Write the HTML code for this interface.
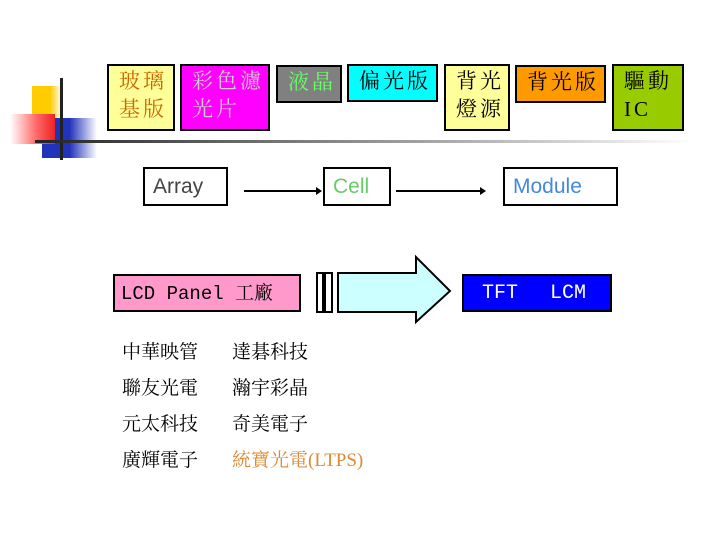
<!DOCTYPE html>
<html><head><meta charset="utf-8"><style>
body{margin:0;width:720px;height:540px;background:#fff;position:relative;overflow:hidden;font-family:"Liberation Serif","Noto Serif CJK SC","Noto Sans CJK TC",serif}
.b{position:absolute;box-sizing:border-box;border:2px solid #000;font-size:21px;line-height:28px;padding:1px 0 0 10px;letter-spacing:3px}
.a{position:absolute;height:2px;background:#000}
.t{position:absolute;font-size:19px;letter-spacing:0px;line-height:20px}
.s{font-family:"Liberation Sans",sans-serif;font-size:21px;letter-spacing:0;padding:4px 0 0 8px}
</style></head><body>
<div style="position:absolute;left:32px;top:86px;width:30px;height:32px;background:linear-gradient(90deg,#ffcc00,#ffcc00 60%,#fff)"></div>
<div style="position:absolute;left:42px;top:118px;width:55px;height:40px;background:linear-gradient(90deg,#2233bb,#2233bb 50%,#fff)"></div>
<div style="position:absolute;left:10px;top:114px;width:45px;height:30px;background:linear-gradient(90deg,#fff,#ff6666 60%,#ee2222)"></div>
<div style="position:absolute;left:60px;top:78px;width:3px;height:82px;background:#222"></div>
<div style="position:absolute;left:35px;top:140px;width:660px;height:3px;background:linear-gradient(90deg,#222,#666 30%,#bbb 70%,#fff)"></div>
<div class="b" style="left:107px;top:64px;width:68px;height:67px;background:#ffff99;color:#cc6600">玻璃<br>基版</div>
<div class="b" style="left:180px;top:64px;width:90px;height:67px;background:#ff00ff;color:#ccc">彩色濾<br>光片</div>
<div class="b" style="left:276px;top:65px;width:66px;height:38px;background:#808080;color:#66ff66">液晶</div>
<div class="b" style="left:347px;top:64px;width:91px;height:38px;background:#00ffff;color:#000">偏光版</div>
<div class="b" style="left:444px;top:64px;width:66px;height:67px;background:#ffff99;color:#000">背光<br>燈源</div>
<div class="b" style="left:515px;top:65px;width:91px;height:38px;background:#ff9900;color:#000">背光版</div>
<div class="b" style="left:612px;top:64px;width:72px;height:67px;background:#99cc00;color:#000">驅動<br>IC</div>
<div class="b s" style="left:143px;top:167px;width:85px;height:39px;color:#444">Array</div>
<div class="b s" style="left:323px;top:167px;width:68px;height:39px;color:#66cc66">Cell</div>
<div class="b s" style="left:503px;top:167px;width:115px;height:39px;color:#4488dd">Module</div>
<div class="a" style="left:244px;top:190px;width:74px"></div>
<div style="position:absolute;left:316px;top:187px;border-left:6px solid #000;border-top:4px solid transparent;border-bottom:4px solid transparent"></div>
<div class="a" style="left:396px;top:190px;width:84px"></div>
<div style="position:absolute;left:480px;top:187px;border-left:6px solid #000;border-top:4px solid transparent;border-bottom:4px solid transparent"></div>
<div class="b" style="left:113px;top:274px;width:188px;height:38px;background:#ff99cc;color:#000;font-family:'Liberation Mono','Noto Serif CJK SC',monospace;font-size:19px;padding:4px 0 0 6px;letter-spacing:0px">LCD Panel 工廠</div>
<svg style="position:absolute;left:0;top:0" width="720" height="540">
<rect x="317" y="273" width="6" height="39" fill="#fff" stroke="#000" stroke-width="2"/>
<rect x="325" y="273" width="7" height="39" fill="#fff" stroke="#000" stroke-width="2"/>
<polygon points="338,273 416,273 416,257 450,291 416,322 416,312 338,312" fill="#ccffff" stroke="#000" stroke-width="2"/>
</svg>
<div class="b" style="left:462px;top:274px;width:150px;height:38px;background:#0000ff;color:#fff;font-family:'Liberation Mono',monospace;font-size:20px;padding:4px 0 0 18px;letter-spacing:0;word-spacing:20px">TFT LCM</div>
<div class="t" style="left:122px;top:343px">中華映管</div>
<div class="t" style="left:232px;top:343px">達碁科技</div>
<div class="t" style="left:122px;top:379px">聯友光電</div>
<div class="t" style="left:232px;top:379px">瀚宇彩晶</div>
<div class="t" style="left:122px;top:415px">元太科技</div>
<div class="t" style="left:232px;top:415px">奇美電子</div>
<div class="t" style="left:122px;top:451px">廣輝電子</div>
<div class="t" style="left:232px;top:451px;color:#dd8833;letter-spacing:0px">統寶光電(LTPS)</div>
</body></html>
